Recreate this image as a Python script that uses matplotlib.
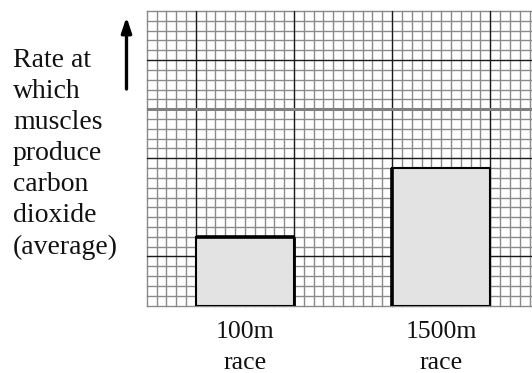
import matplotlib
matplotlib.use("Agg")
import matplotlib.pyplot as plt

# data
categories = ["100m\nrace", "1500m\nrace"]
values = [7, 14]
centers = [10, 30]
bar_width = 10
ylabel_text = "Rate at\nwhich\nmuscles\nproduce\ncarbon\ndioxide\n(average)"

W, H = 532, 373
fig = plt.figure(figsize=(W / 100, H / 100), dpi=100)
left_px, top_px, bottom_px = 146.7, 11.0, 305.5
ax = fig.add_axes([left_px / W, 1 - bottom_px / H, 1 - left_px / W, (bottom_px - top_px) / H])

n_rows = 30
sq = (bottom_px - top_px) / n_rows
xmax = (W - left_px) / sq
ax.set_xlim(0, xmax)
ax.set_ylim(0, n_rows)

minor_c = "#8a8a8a"
major_c = "#1a1a1a"
# minor grid
for i in range(0, int(xmax) + 1):
    ax.axvline(i, color=minor_c, lw=1.0, zorder=1, clip_on=False)
for j in range(0, n_rows + 1):
    ax.axhline(j, color=minor_c, lw=1.0, zorder=1, clip_on=False)
# major grid
for i in range(5, int(xmax) + 1, 10):
    ax.axvline(i, color=major_c, lw=0.9, zorder=2)
for j in range(5, n_rows, 10):
    ax.axhline(j, color=major_c, lw=0.9, zorder=2)
ax.axhline(20, color="#808080", lw=2.2, zorder=2)

bars = ax.bar(centers, values, width=bar_width, color="#e3e3e3",
              edgecolor="black", linewidth=1.5, zorder=3)
# heavier edges as in the drawing
b0, b1 = bars[0], bars[1]
ax.hlines(b0.get_height(), b0.get_x(), b0.get_x() + b0.get_width(), color="black", lw=2.6, zorder=4)
ax.vlines(b0.get_x() + b0.get_width(), 0, b0.get_height(), color="black", lw=2.0, zorder=4)
ax.vlines(b1.get_x(), 0, b1.get_height(), color="black", lw=2.6, zorder=4)

for s in ax.spines.values():
    s.set_visible(False)
ax.set_yticks([])
ax.set_xticks(centers)
ax.set_xticklabels(categories, fontsize=18.5, family="Liberation Serif", linespacing=1.55)
ax.tick_params(axis="x", length=0, pad=11, colors="#111111")

fig.text(13 / W, 1 - 48 / H, ylabel_text, fontsize=20, family="Liberation Serif",
         va="top", ha="left", linespacing=1.32, color="#111111")

# arrow
ax_arrow = fig.add_axes([0, 0, 1, 1], facecolor="none")
ax_arrow.set_xlim(0, W)
ax_arrow.set_ylim(H, 0)
ax_arrow.axis("off")
ax_arrow.annotate("", xy=(126.5, 17), xytext=(126.5, 89),
                  arrowprops=dict(arrowstyle="-|>,head_width=0.3,head_length=0.9",
                                  color="black", lw=2.4, shrinkA=0, shrinkB=0))

fig.savefig("out.png", dpi=100)
